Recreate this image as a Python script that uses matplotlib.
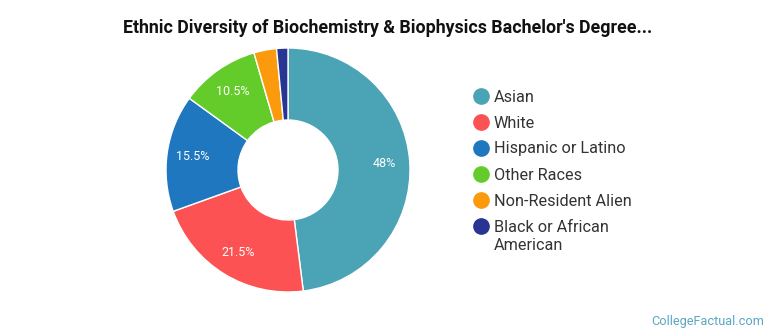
import matplotlib
matplotlib.use("Agg")
import matplotlib.pyplot as plt

categories = ["Asian", "White", "Hispanic or Latino", "Other Races",
              "Non-Resident Alien", "Black or African\nAmerican"]
values = [48, 21.5, 15.5, 10.5, 3.0, 1.5]
colors = ["#4ba3b6", "#fd5253", "#1f77c0", "#63cc2a", "#fb9a0c", "#283593"]
title = "Ethnic Diversity of Biochemistry & Biophysics Bachelor's Degree..."

plt.rcParams['font.family'] = ['Roboto', 'DejaVu Sans']

W, H = 770, 335
fig = plt.figure(figsize=(W / 100, H / 100), dpi=100)

cx, cy, R = 288, 170, 122
ax = fig.add_axes([(cx - R) / W, (H - cy - R) / H, 2 * R / W, 2 * R / H])

def fmt(p):
    return f"{p:g}%" if p >= 5 else ""

wedges, texts, autotexts = ax.pie(
    values, colors=colors, startangle=90, counterclock=False, radius=1,
    wedgeprops=dict(width=1 - 50 / 122, edgecolor="white", linewidth=1),
    autopct=lambda p: fmt(round(p * 2) / 2), pctdistance=0.79,
    textprops=dict(color="white", fontsize=9))
ax.set_xlim(-1, 1)
ax.set_ylim(-1, 1)
ax.set_aspect("equal")
ax.axis("off")

fig.text(388 / W, 1 - 28 / H, title, ha="center", va="center",
         fontsize=12.8, fontweight="bold", color="#111111")

# legend drawn in pixel coordinates on an overlay axes
lax = fig.add_axes([0, 0, 1, 1])
lax.set_xlim(0, W)
lax.set_ylim(H, 0)
lax.axis("off")
row0, step = 96, 26
for i, (cat, col) in enumerate(zip(categories, colors)):
    y = row0 + i * step
    lax.plot([481], [y], marker="o", markersize=11, color=col,
             markeredgecolor=col, linestyle="none")
    lax.text(494, y - 6.5, cat, ha="left", va="top", fontsize=11.7,
             color="#333333", linespacing=1.3)

fig.text(764 / W, 1 - 321 / H, "CollegeFactual.com", ha="right",
         va="center", fontsize=9.2, color="#5aa7c2")

fig.savefig("out.png", dpi=100)
